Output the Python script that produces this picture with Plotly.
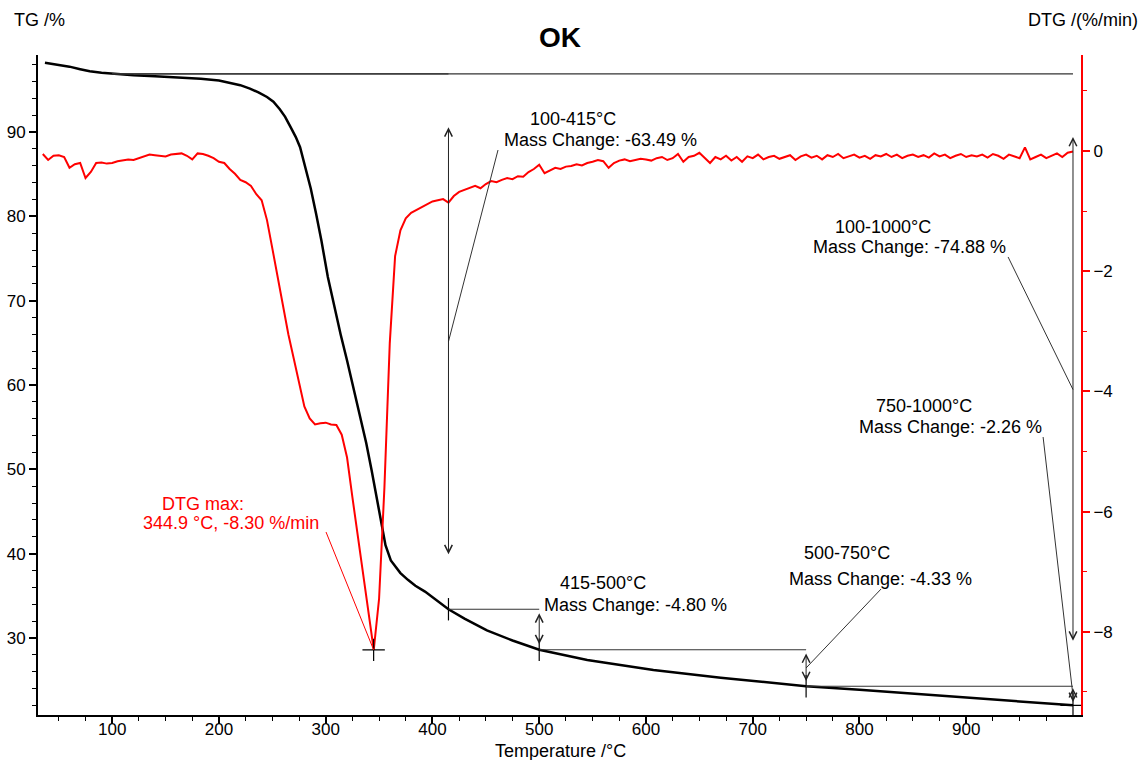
import numpy as np
import plotly.graph_objects as go

# ---------------- data ----------------
tg_temp = [37, 50, 60, 70, 79, 90, 100, 120, 140, 160, 183, 200, 208, 220, 229, 237, 245, 251,
           257, 262, 267, 272, 276, 281, 286, 291, 296, 302, 308, 314, 320, 326, 332, 338, 343,
           348, 352, 356, 361, 366, 370, 377, 384, 393, 403, 415, 430, 451, 475, 500, 545, 607,
           670, 750, 800, 850, 900, 950, 980, 1000]
tg_val = [98.20, 97.95, 97.75, 97.45, 97.20, 97.02, 96.90, 96.72, 96.60, 96.50, 96.30, 96.10,
          95.90, 95.55, 95.15, 94.70, 94.15, 93.60, 92.70, 91.80, 90.60, 89.40, 88.20, 85.90,
          83.30, 80.30, 77.10, 72.80, 69.20, 66.00, 62.90, 59.70, 56.50, 53.10, 49.90, 46.50,
          43.60, 41.00, 39.20, 38.30, 37.70, 36.90, 36.20, 35.50, 34.50, 33.41, 32.30, 30.90,
          29.70, 28.61, 27.40, 26.20, 25.30, 24.28, 23.85, 23.40, 22.95, 22.55, 22.25, 22.02]

dtg_temp = list(range(35, 1001, 5))
dtg_val = [
    -0.05, -0.15, -0.08, -0.07, -0.10, -0.28, -0.22, -0.20, -0.45, -0.35,   # 35-80
    -0.20, -0.19, -0.21, -0.20, -0.17, -0.16, -0.14, -0.15, -0.12, -0.10,   # 85-130
    -0.06, -0.07, -0.08, -0.09, -0.06, -0.05, -0.04, -0.08, -0.14, -0.04,   # 135-180
    -0.05, -0.08, -0.12, -0.18, -0.20, -0.30, -0.38, -0.48, -0.52, -0.58,   # 185-230
    -0.72, -0.82, -1.15, -1.62, -2.10, -2.60, -3.05, -3.45, -3.85, -4.25,   # 235-280
    -4.45, -4.55, -4.53, -4.52, -4.55, -4.56, -4.72, -5.10, -5.76, -6.40,   # 285-330
    -7.04, -7.70, -8.30, -7.45, -5.60, -3.20, -1.75, -1.32, -1.12, -1.03,   # 335-380
    -0.98, -0.93, -0.88, -0.84, -0.82, -0.80, -0.86, -0.75, -0.68, -0.65,   # 385-430
    -0.62, -0.58, -0.62, -0.55, -0.50, -0.52, -0.48, -0.45, -0.47, -0.42,   # 435-480
    -0.43, -0.35, -0.30, -0.23, -0.37, -0.32, -0.28, -0.30, -0.26, -0.25,   # 485-530
    -0.22, -0.24, -0.20, -0.18, -0.15, -0.17, -0.28, -0.20, -0.16, -0.14,   # 535-580
    -0.17, -0.15, -0.13, -0.14, -0.16, -0.12, -0.10, -0.15, -0.12, -0.05,   # 585-630
    -0.18, -0.10, -0.08, -0.03, -0.12, -0.20, -0.10, -0.14, -0.08, -0.16,   # 635-680
    -0.10, -0.18, -0.09, -0.12, -0.06, -0.14, -0.10, -0.08, -0.13, -0.10,   # 685-730
    -0.07, -0.15, -0.09, -0.06, -0.11, -0.08, -0.14, -0.07, -0.10, -0.05,   # 735-780
    -0.12, -0.09, -0.06, -0.11, -0.08, -0.13, -0.07, -0.09, -0.05, -0.10,   # 785-830
    -0.06, -0.12, -0.08, -0.06, -0.10, -0.07, -0.11, -0.04, -0.09, -0.06,   # 835-880
    -0.12, -0.08, -0.05, -0.10, -0.07, -0.09, -0.06, -0.11, -0.05, -0.08,   # 885-930
    -0.13, -0.06, -0.09, -0.12, 0.06, -0.14, -0.10, -0.06, -0.12, -0.08,    # 935-980
    -0.04, -0.10, -0.03, -0.01,                                             # 985-1000
]
assert len(dtg_temp) == len(dtg_val)

dtg_peak_temp = 344.9
dtg_peak_val = -8.30

steps_from = [100, 415, 500, 750, 100]
steps_to = [415, 500, 750, 1000, 1000]
steps_change = ["-63.49", "-4.80", "-4.33", "-2.26", "-74.88"]

x_ticks = [100, 200, 300, 400, 500, 600, 700, 800, 900]
x_minor = [t for t in range(50, 1000, 25) if t % 100 != 0]
tg_ticks = [30, 40, 50, 60, 70, 80, 90]
tg_minor = [v for v in range(22, 100, 2) if v % 10 != 0]
dtg_ticks = [0, -2, -4, -6, -8]
dtg_minor = [1, -1, -3, -5, -7, -9]

# ---------------- figure ----------------
FONT = "Liberation Sans, Arial, sans-serif"
RED = "#ff0000"
GREY = "#333333"

fig = go.Figure()
fig.add_trace(go.Scatter(x=tg_temp, y=tg_val, mode="lines",
                         line=dict(color="black", width=2.5), yaxis="y"))
fig.add_trace(go.Scatter(x=dtg_temp, y=dtg_val, mode="lines",
                         line=dict(color=RED, width=2), yaxis="y2"))


def tg_at(t):
    return float(np.interp(t, tg_temp, tg_val))


# reference lines, double arrows, markers
for t1, t2 in zip(steps_from, steps_to):
    y1, y2 = tg_at(t1), tg_at(t2)
    fig.add_shape(type="line", xref="x", yref="y", x0=t1, x1=t2, y0=y1, y1=y1,
                  line=dict(color=GREY, width=1.2))
    mid = (y1 + y2) / 2
    half = 0.4 * (y1 - y2)
    fig.add_annotation(x=t2, y=mid + half, ax=t2, ay=mid - half, xref="x", yref="y",
                       axref="x", ayref="y", text="", showarrow=True,
                       arrowside="end+start", arrowhead=5, startarrowhead=5,
                       arrowsize=1.5, startarrowsize=1.5, arrowwidth=1,
                       arrowcolor="#222222", standoff=0, startstandoff=0)

mark_t = [415, 500, 750]
fig.add_trace(go.Scatter(x=mark_t, y=[tg_at(t) for t in mark_t], mode="markers",
                         marker=dict(symbol="line-ns", size=16,
                                     line=dict(color="black", width=1.2)), yaxis="y"))
fig.add_trace(go.Scatter(x=[1000], y=[tg_at(1000)], mode="markers",
                         marker=dict(symbol="cross-thin", size=18,
                                     line=dict(color="black", width=1.2)), yaxis="y"))
fig.add_trace(go.Scatter(x=[dtg_peak_temp], y=[dtg_peak_val], mode="markers",
                         marker=dict(symbol="cross-thin", size=16,
                                     line=dict(color="black", width=1.2)), yaxis="y2"))

# text labels (two lines each)
labels = [
    # (x, y, text, yref, color)
    (531.7, 91.54, f"{steps_from[0]}-{steps_to[0]}°C", "y", "black"),
    (557.0, 89.05, f"Mass Change: {steps_change[0]} %", "y", "black"),
    (822.1, 78.74, f"{steps_from[4]}-{steps_to[4]}°C", "y", "black"),
    (847.3, 76.36, f"Mass Change: {steps_change[4]} %", "y", "black"),
    (860.5, 57.51, f"{steps_from[3]}-{steps_to[3]}°C", "y", "black"),
    (884.8, 55.02, f"Mass Change: {steps_change[3]} %", "y", "black"),
    (788.4, 40.08, f"{steps_from[2]}-{steps_to[2]}°C", "y", "black"),
    (819.3, 37.00, f"Mass Change: {steps_change[2]} %", "y", "black"),
    (559.8, 36.52, f"{steps_from[1]}-{steps_to[1]}°C", "y", "black"),
    (589.8, 33.91, f"Mass Change: {steps_change[1]} %", "y", "black"),
    (185.1, -5.874, "DTG max:", "y2", RED),
    (211.3, -6.19, f"{dtg_peak_temp} °C, {dtg_peak_val:.2f} %/min", "y2", RED),
]
for x, y, txt, yref, col in labels:
    fig.add_annotation(x=x, y=y, xref="x", yref=yref, text=txt, showarrow=False,
                       xanchor="center", yanchor="middle",
                       font=dict(family=FONT, size=18, color=col))

# leader lines
leaders = [
    (461.4, 87.86, 415, (tg_at(100) + tg_at(415)) / 2),
    (939.2, 75.18, 1000, (tg_at(100) + tg_at(1000)) / 2),
    (972.0, 53.83, 1000, (tg_at(750) + tg_at(1000)) / 2),
    (820.2, 35.81, 750, (tg_at(500) + tg_at(750)) / 2),
]
for x0, y0, x1, y1 in leaders:
    fig.add_shape(type="line", xref="x", yref="y", x0=x0, y0=y0, x1=x1, y1=y1,
                  line=dict(color=GREY, width=1))
fig.add_shape(type="line", xref="x", yref="y2", x0=300.3, y0=-6.34,
              x1=dtg_peak_temp, y1=dtg_peak_val, line=dict(color=RED, width=1))

# axis titles and chart title
fig.add_annotation(x=-0.025, y=1.053, xref="paper", yref="paper", text="TG /%",
                   showarrow=False, xanchor="left", yanchor="middle",
                   font=dict(family=FONT, size=18, color="black"))
fig.add_annotation(x=1.0566, y=1.053, xref="paper", yref="paper", text="DTG /(%/min)",
                   showarrow=False, xanchor="right", yanchor="middle",
                   font=dict(family=FONT, size=18, color="black"))
fig.add_annotation(x=0.5014, y=-0.054, xref="paper", yref="paper", text="Temperature /°C",
                   showarrow=False, xanchor="center", yanchor="middle",
                   font=dict(family=FONT, size=18, color="black"))
fig.add_annotation(x=0.5005, y=1.0258, xref="paper", yref="paper", text="<b>OK</b>",
                   showarrow=False, xanchor="center", yanchor="middle",
                   font=dict(family=FONT, size=28, color="black"))

fig.update_layout(
    width=1143, height=760,
    margin=dict(l=38, r=62, t=55, b=45, autoexpand=False),
    plot_bgcolor="white", paper_bgcolor="white",
    showlegend=False,
    font=dict(family=FONT, size=17, color="black"),
    xaxis=dict(range=[30.5, 1007.5], tickmode="array", tickvals=x_ticks,
               showline=True, linecolor="black", linewidth=2, ticks="outside",
               ticklen=7, tickwidth=1.5, tickcolor="black", showgrid=False,
               zeroline=False, automargin=False, ticklabelstandoff=-9,
               minor=dict(tickmode="array", tickvals=x_minor, ticks="outside",
                          ticklen=4, tickwidth=1.2, tickcolor="black")),
    yaxis=dict(range=[20.87, 99.13], tickmode="array", tickvals=tg_ticks,
               showline=True, linecolor="black", linewidth=2, ticks="outside",
               ticklen=7, tickwidth=1.5, tickcolor="black", showgrid=False,
               zeroline=False, automargin=False,
               minor=dict(tickmode="array", tickvals=tg_minor, ticks="outside",
                          ticklen=4, tickwidth=1.2, tickcolor="black")),
    yaxis2=dict(range=[-9.384, 1.597], overlaying="y", side="right",
                tickmode="array", tickvals=dtg_ticks,
                showline=True, linecolor=RED, linewidth=2, ticks="outside",
                ticklen=7, tickwidth=1.5, tickcolor=RED, showgrid=False,
                zeroline=False, automargin=False, tickfont=dict(color="black"),
                minor=dict(tickmode="array", tickvals=dtg_minor, ticks="outside",
                           ticklen=4, tickwidth=1.2, tickcolor=RED)),
)

fig.write_html("out.html",
               config={"displayModeBar": False},
               post_script="document.body.style.margin='0';"
                           "document.body.style.overflow='hidden';")
